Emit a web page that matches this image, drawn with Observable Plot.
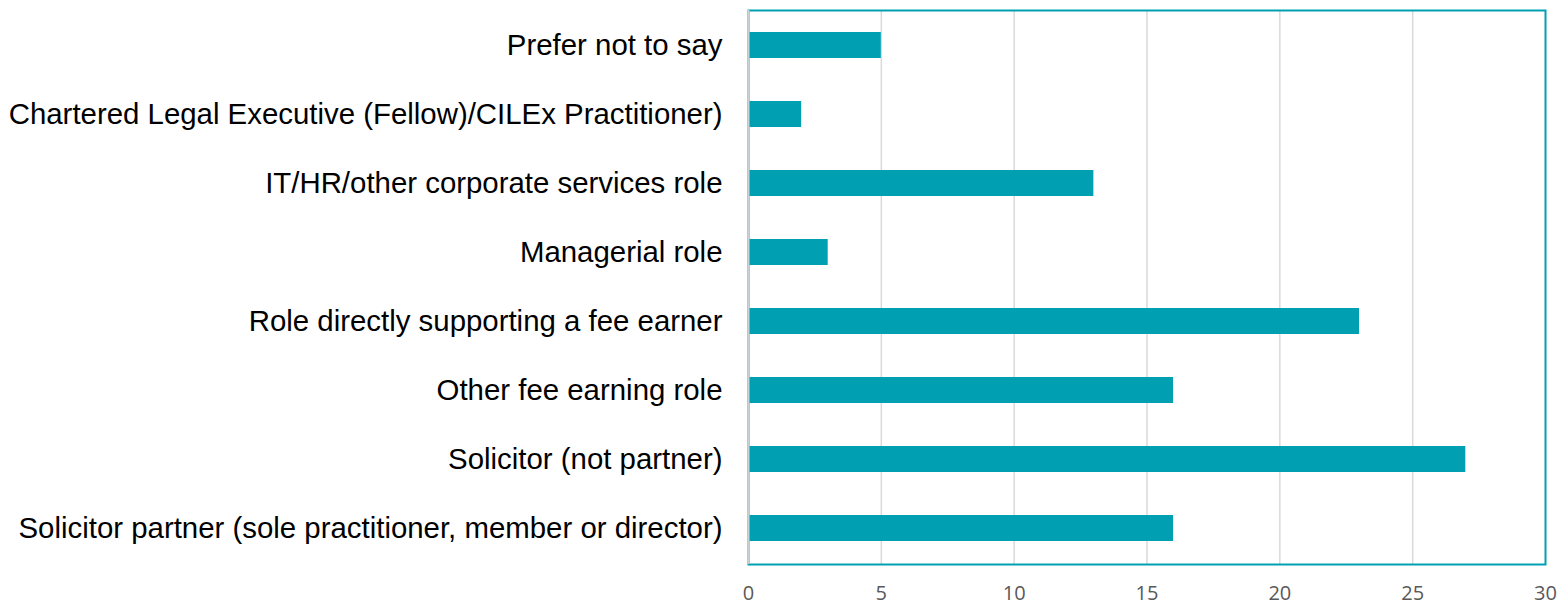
<!DOCTYPE html>
<html>
<head>
<meta charset="utf-8">
<script src="https://cdn.jsdelivr.net/npm/d3@7"></script>
<script src="https://cdn.jsdelivr.net/npm/@observablehq/plot@0.6"></script>
<style>
  html, body { margin: 0; padding: 0; background: #fff; }
  #chart svg { display: block; }
  #chart g[aria-label="x-axis tick label"] { font-size: 20px; font-family: "Open Sans", sans-serif; }
  #chart g[aria-label="y-axis tick label"] { font-size: 29.4px; font-family: "Liberation Sans", Arial, sans-serif; }
</style>
</head>
<body>
<div id="chart"></div>
<script>
const categories = [
  "Prefer not to say",
  "Chartered Legal Executive (Fellow)/CILEx Practitioner)",
  "IT/HR/other corporate services role",
  "Managerial role",
  "Role directly supporting a fee earner",
  "Other fee earning role",
  "Solicitor (not partner)",
  "Solicitor partner (sole practitioner, member or director)"
];
const values = [5, 2, 13, 3, 23, 16, 27, 16];
const xTicks = [0, 5, 10, 15, 20, 25, 30];
const gridTicks = [5, 10, 15, 20, 25];

const data = categories.map((c, i) => ({category: c, value: values[i]}));
const teal = "#00a0b2";

const chart = Plot.plot({
  width: 1561,
  height: 605,
  marginLeft: 748,
  marginRight: 16,
  marginTop: 10,
  marginBottom: 41,
  x: {domain: [0, 30], ticks: xTicks},
  y: {domain: categories, paddingInner: 0.62, paddingOuter: 0.31, label: null},
  marks: [
    Plot.ruleX(gridTicks, {stroke: "#d9d9d9", strokeWidth: 1.5}),
    Plot.barX(data, {x: "value", y: "category", fill: teal}),
    Plot.frame({stroke: teal, strokeWidth: 2}),
    Plot.ruleX([0], {stroke: "#c9d3d6", strokeWidth: 2}),
    Plot.axisX({ticks: xTicks, tickSize: 0, tickPadding: 21, label: null, fontSize: 20, fontFamily: "Open Sans", fill: "#595959", tickFormat: d3.format("d")}),
    Plot.axisY({tickSize: 0, tickPadding: 26, label: null, fontSize: 29.4, fontFamily: "Liberation Sans, Arial, sans-serif", fill: "#000"})
  ]
});
document.getElementById("chart").appendChild(chart);
</script>
</body>
</html>
